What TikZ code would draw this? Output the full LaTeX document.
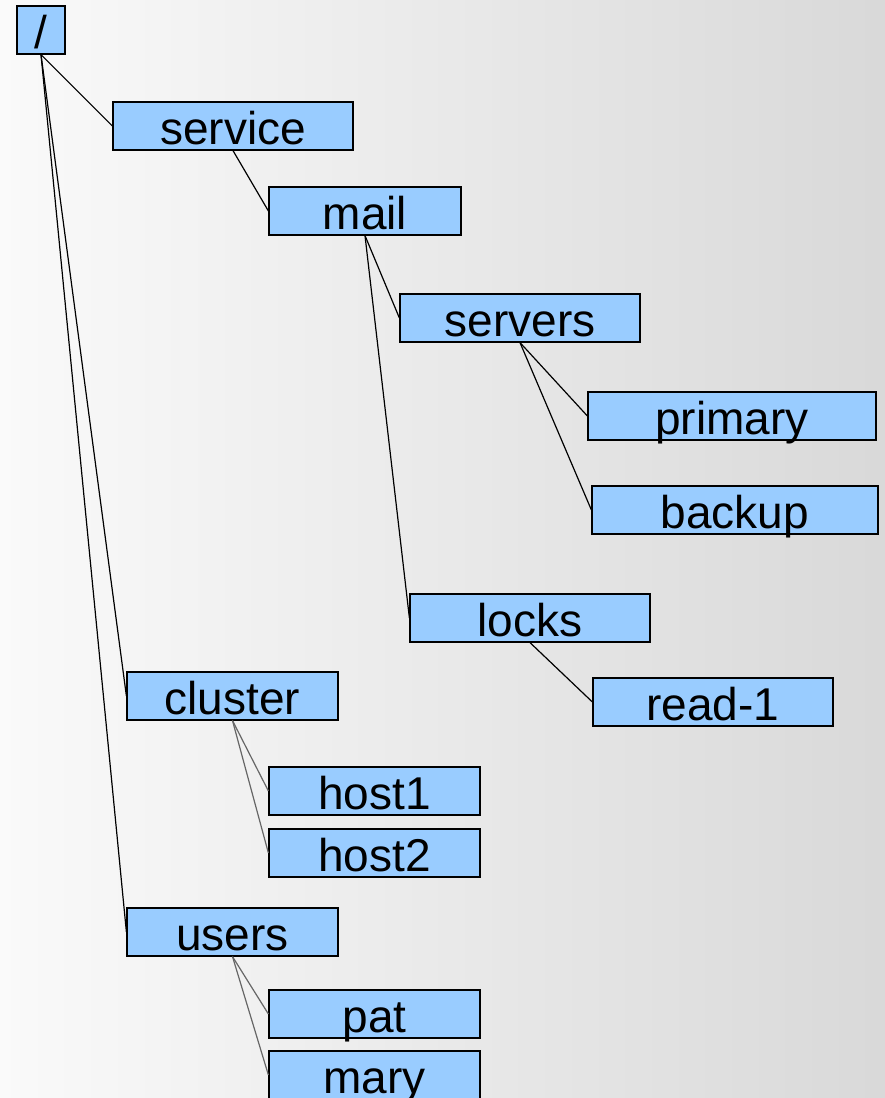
\documentclass[tikz,border=0pt]{standalone}
\usepackage{fontspec}
\setmainfont{Liberation Sans}
\begin{document}
\begin{tikzpicture}[x=1pt, y=-1pt,
  znode/.style={draw=black, line width=1.2pt, fill={rgb,255:red,153;green,204;blue,255},
    inner sep=0pt, minimum height=48pt, text height=42pt, text depth=6pt,
    font=\fontsize{46}{48}\selectfont},
  link/.style={draw=black, line width=1.2pt},
  sublink/.style={draw=black!60, line width=1.2pt}]
  % page and background
  \useasboundingbox (0,0) rectangle (885,1098);
  \shade[left color=white!98!black, right color=white!85!black] (0,0) rectangle (885,1098);

  % znodes
  \node[znode, minimum width=48pt]  (root)    at (41,30)     {/};
  \node[znode, minimum width=240pt] (service) at (233,126)   {service};
  \node[znode, minimum width=192pt] (mail)    at (365,211)   {mail};
  \node[znode, minimum width=240pt] (servers) at (520,318)   {servers};
  \node[znode, minimum width=288pt] (primary) at (732,416)   {primary};
  \node[znode, minimum width=286pt] (backup)  at (735,510)   {backup};
  \node[znode, minimum width=240pt] (locks)   at (530,618)   {locks};
  \node[znode, minimum width=240pt] (read1)   at (713,702)   {read-1};
  \node[znode, minimum width=211pt] (cluster) at (232.5,696) {cluster};
  \node[znode, minimum width=211pt] (host1)   at (374.5,791) {host1};
  \node[znode, minimum width=211pt] (host2)   at (374.5,853) {host2};
  \node[znode, minimum width=211pt] (users)   at (232.5,932) {users};
  \node[znode, minimum width=211pt] (pat)     at (374.5,1014){pat};
  \node[znode, minimum width=211pt] (mary)    at (374.5,1075){mary};

  % parent-child links
  \draw[link] (root.south) -- (service.west);
  \draw[link] (root.south) -- (cluster.west);
  \draw[link] (root.south) -- (users.west);
  \draw[link] (service.south) -- (mail.west);
  \draw[link] (mail.south) -- (servers.west);
  \draw[link] (mail.south) -- (locks.west);
  \draw[link] (servers.south) -- (primary.west);
  \draw[link] (servers.south) -- (backup.west);
  \draw[link] (locks.south) -- (read1.west);
  \draw[sublink] (cluster.south) -- (host1.west);
  \draw[sublink] (cluster.south) -- (host2.west);
  \draw[sublink] (users.south) -- (pat.west);
  \draw[sublink] (users.south) -- (mary.west);
\end{tikzpicture}
\end{document}
